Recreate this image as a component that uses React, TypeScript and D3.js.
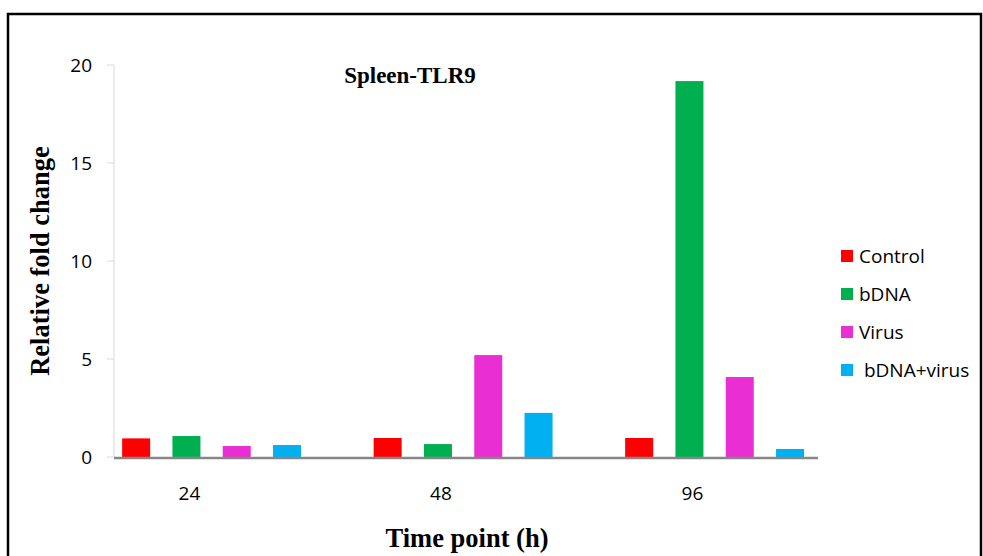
import React, { useEffect, useRef } from 'react';
import * as d3 from 'd3';

const timePoints = ['24', '48', '96'];
const seriesNames = ['Control', 'bDNA', 'Virus', 'bDNA+virus'];
const control = [0.95, 0.97, 0.97];
const bdna = [1.07, 0.66, 19.18];
const virus = [0.56, 5.2, 4.08];
const bdnaVirus = [0.61, 2.25, 0.41];
const yTicks = [0, 5, 10, 15, 20];
const colors = ['#ff0000', '#00b050', '#e92fd3', '#00b0f0'];

const W = 983;
const H = 556;

const App: React.FC = () => {
  const svgRef = useRef<SVGSVGElement>(null);

  useEffect(() => {
    document.body.style.margin = '0';
    if (!svgRef.current) return;
    const svg = d3.select(svgRef.current);
    svg.selectAll('*').remove();

    const sans = '"Open Sans", sans-serif';
    const serif = '"Liberation Serif", "Times New Roman", serif';
    const values = [control, bdna, virus, bdnaVirus];

    // outer frame
    svg.append('rect')
      .attr('x', 8).attr('y', 14)
      .attr('width', 973).attr('height', 600)
      .attr('fill', 'none')
      .attr('stroke', '#000')
      .attr('stroke-width', 2.5);

    // scales
    const y = d3.scaleLinear().domain([0, 20]).range([457, 65]);
    const x0 = d3.scaleBand<string>()
      .domain(timePoints)
      .range([111, 111 + 3 * 251.5])
      .padding(0);
    const x1 = d3.scaleBand<string>()
      .domain(seriesNames)
      .range([0, 201.2])
      .paddingInner(0.443)
      .paddingOuter(0.2215);

    // y axis
    const yAxis = svg.append('g');
    yAxis.append('line')
      .attr('x1', 114).attr('x2', 114)
      .attr('y1', y(20)).attr('y2', y(0))
      .attr('stroke', '#d9d9d9').attr('stroke-width', 1);
    yAxis.selectAll('line.tick')
      .data(yTicks)
      .enter()
      .append('line')
      .attr('class', 'tick')
      .attr('x1', 107).attr('x2', 114)
      .attr('y1', d => y(d)).attr('y2', d => y(d))
      .attr('stroke', '#d9d9d9');
    yAxis.selectAll('text')
      .data(yTicks)
      .enter()
      .append('text')
      .attr('x', 92)
      .attr('y', d => y(d))
      .attr('dy', '0.35em')
      .attr('text-anchor', 'end')
      .attr('font-family', sans)
      .attr('font-size', 19)
      .attr('fill', '#000')
      .text(d => d);

    // bars
    seriesNames.forEach((s, si) => {
      svg.append('g')
        .selectAll('rect')
        .data(values[si])
        .enter()
        .append('rect')
        .attr('x', (d, i) => (x0(timePoints[i]) || 0) + (x1(s) || 0))
        .attr('y', d => y(d))
        .attr('width', x1.bandwidth())
        .attr('height', d => y(0) - y(d))
        .attr('fill', colors[si]);
    });

    // x axis
    svg.append('line')
      .attr('x1', 114).attr('x2', 818)
      .attr('y1', y(0) + 1).attr('y2', y(0) + 1)
      .attr('stroke', '#868686')
      .attr('stroke-width', 2.5);
    svg.append('g')
      .selectAll('text')
      .data(timePoints)
      .enter()
      .append('text')
      .attr('x', d => (x0(d) || 0) + x1.step() * 1.5 + 3)
      .attr('y', 493)
      .attr('dy', '0.35em')
      .attr('text-anchor', 'middle')
      .attr('font-family', sans)
      .attr('font-size', 19)
      .attr('fill', '#000')
      .text(d => d);

    // titles
    svg.append('text')
      .attr('x', 410).attr('y', 83)
      .attr('text-anchor', 'middle')
      .attr('font-family', serif)
      .attr('font-weight', 'bold')
      .attr('font-size', 23)
      .text('Spleen-TLR9');

    svg.append('text')
      .attr('transform', 'translate(49,261) rotate(-90)')
      .attr('text-anchor', 'middle')
      .attr('font-family', serif)
      .attr('font-weight', 'bold')
      .attr('font-size', 26.5)
      .text('Relative fold change');

    svg.append('text')
      .attr('x', 467).attr('y', 547)
      .attr('text-anchor', 'middle')
      .attr('font-family', serif)
      .attr('font-weight', 'bold')
      .attr('font-size', 26.5)
      .text('Time point (h)');

    // legend
    const legend = svg.append('g');
    const ly = d3.scalePoint<string>().domain(seriesNames).range([256, 370]);
    legend.selectAll('rect')
      .data(seriesNames)
      .enter()
      .append('rect')
      .attr('x', 841)
      .attr('y', d => (ly(d) || 0) - 6)
      .attr('width', 12).attr('height', 12)
      .attr('fill', (d, i) => colors[i]);
    legend.selectAll('text')
      .data(seriesNames)
      .enter()
      .append('text')
      .attr('x', 859)
      .attr('y', d => ly(d) || 0)
      .attr('dy', '0.35em')
      .attr('xml:space', 'preserve')
      .style('white-space', 'pre')
      .attr('font-family', sans)
      .attr('font-size', 19)
      .attr('fill', '#000')
      .text(d => (d === 'bDNA+virus' ? ' ' + d : d));
  }, []);

  return <svg ref={svgRef} width={W} height={H} style={{ display: 'block', background: '#fff' }} />;
};

export default App;
